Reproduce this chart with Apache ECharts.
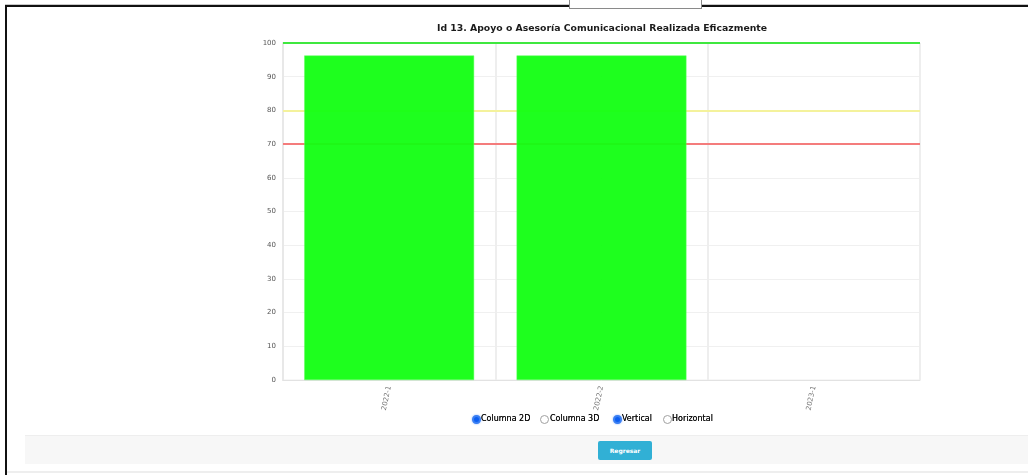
<!DOCTYPE html>
<html>
<head>
<meta charset="utf-8">
<script src="https://cdn.jsdelivr.net/npm/echarts@6/dist/echarts.min.js"></script>
<style>
  html, body { margin: 0; padding: 0; background: #fff; width: 1028px; height: 475px; overflow: hidden; }
  #frame-top { position: absolute; left: 5px; top: 4px; width: 1023px; height: 0; border-top: 1px solid #c8c8c8; }
  #frame-black-top { position: absolute; left: 5px; top: 5px; width: 1023px; height: 2px; background: #111; }
  #frame-black-left { position: absolute; left: 5px; top: 5px; width: 2px; height: 470px; background: #111; }
  #selbox { position: absolute; left: 569px; top: -2px; width: 131px; height: 9px; border: 1px solid #8a8a8a; background: #fff; }
  #chart { position: absolute; left: 0; top: 0; width: 1028px; height: 475px; }
  .opt { position: absolute; top: 414px; font-family: Verdana, "DejaVu Sans", sans-serif; font-size: 8px; color: #111; white-space: nowrap; line-height: 10px; text-shadow: 0 0 0.4px #111; }
  .rb { position: absolute; top: 415px; width: 9px; height: 9px; border-radius: 50%; border: 1px solid #a0a0a0; box-sizing: border-box; background: #fff; }
  .rb.on { border: 2px solid #3a7ff2; background: #0b5ef2; box-shadow: 0 0 2px #7aa8ff; }
  #footer { position: absolute; left: 25px; top: 435px; width: 1003px; height: 28px; background: #f7f7f7; border-top: 1px solid #eeeeee; }
  #btn { position: absolute; left: 598px; top: 441px; width: 54px; height: 19px; background: #31b0d5; border-radius: 2px; color: #fff; font-family: Verdana, "DejaVu Sans", sans-serif; font-size: 6px; font-weight: bold; text-align: center; line-height: 19px; }
  #bottomline { position: absolute; left: 7px; top: 471px; width: 1021px; height: 2px; background: #eeeeee; }
</style>
</head>
<body>
<div id="frame-top"></div>
<div id="frame-black-top"></div>
<div id="frame-black-left"></div>
<div id="selbox"></div>
<div id="chart"></div>
<span class="rb on" style="left:472px"></span><span class="opt" style="left:481px">Columna 2D</span>
<span class="rb" style="left:540px"></span><span class="opt" style="left:550px">Columna 3D</span>
<span class="rb on" style="left:613px"></span><span class="opt" style="left:622px">Vertical</span>
<span class="rb" style="left:663px"></span><span class="opt" style="left:672px">Horizontal</span>
<div id="footer"></div>
<div id="btn">Regresar</div>
<div id="bottomline"></div>
<script>
// Periods shown on the horizontal axis
const periods = ['2022-1', '2022-2', '2023-1'];
// Achievement (%) for each period; the last period has no result yet
const results = [96.3, 96.3, null];
// Reference levels: target, warning, minimum
const targetLevel = 100;
const warningLevel = 80;
const minimumLevel = 70;

const chart = echarts.init(document.getElementById('chart'), null, { renderer: 'canvas' });

chart.setOption({
  animation: false,
  backgroundColor: 'transparent',
  title: {
    text: 'Id 13. Apoyo o Asesoría Comunicacional Realizada Eficazmente',
    left: 597,
    textAlign: 'center',
    top: 19,
    textStyle: { fontFamily: 'Verdana, "DejaVu Sans", sans-serif', fontSize: 9.3, fontWeight: 'bold', color: '#1a1a1a' }
  },
  grid: { left: 283, right: 108, top: 43, bottom: 95, containLabel: false, show: true, borderColor: '#eeeeee', borderWidth: 1 },
  xAxis: {
    type: 'category',
    data: periods,
    axisLine: { show: true, lineStyle: { color: '#e2e2e2' } },
    axisTick: { show: false },
    splitLine: { show: true, lineStyle: { color: '#eeeeee', width: 2 } },
    axisLabel: { rotate: 78, fontSize: 7, color: '#777', margin: 6, fontFamily: 'Verdana, "DejaVu Sans", sans-serif' }
  },
  yAxis: {
    type: 'value',
    min: 0,
    max: 100,
    interval: 10,
    axisLine: { show: true, lineStyle: { color: '#e8e8e8', width: 2 } },
    axisTick: { show: false },
    splitLine: { lineStyle: { color: '#f0f0f0' } },
    axisLabel: { fontSize: 7, color: '#555', margin: 7, fontFamily: 'Verdana, "DejaVu Sans", sans-serif' }
  },
  series: [
    {
      // reference levels drawn under the bars
      type: 'line',
      data: [],
      z: 1,
      silent: true,
      markLine: {
        symbol: 'none',
        silent: true,
        z: 1,
        label: { show: false },
        data: [
          { yAxis: targetLevel, lineStyle: { color: '#3fe83f', width: 2, type: 'solid' } },
          { yAxis: warningLevel, lineStyle: { color: '#f4f29c', width: 2, type: 'solid' } },
          { yAxis: minimumLevel, lineStyle: { color: '#f47c7c', width: 2, type: 'solid' } }
        ]
      }
    },
    {
      type: 'bar',
      data: results,
      z: 3,
      barCategoryGap: '20%',
      itemStyle: { color: '#12ff12', opacity: 0.95, borderColor: '#5cff5c', borderWidth: 0.5 }
    }
  ]
});
</script>
</body>
</html>
